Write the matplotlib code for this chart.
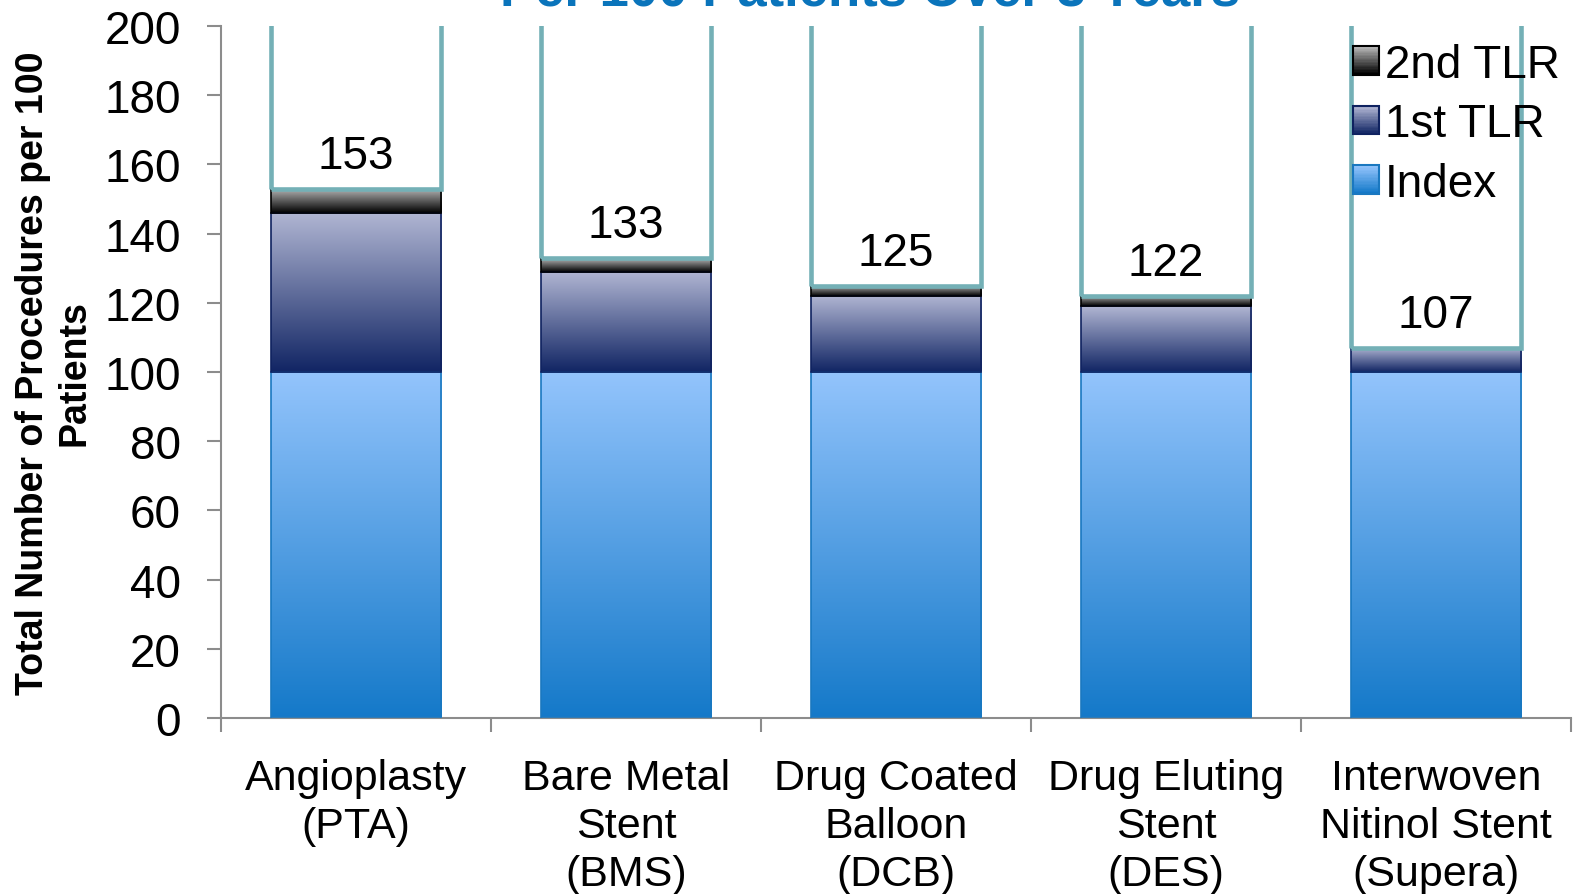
import numpy as np
import matplotlib
matplotlib.use("Agg")
import matplotlib.pyplot as plt
from matplotlib.colors import LinearSegmentedColormap
from matplotlib.patches import Patch, Rectangle
from matplotlib.legend_handler import HandlerBase

plt.rcParams['font.family'] = ['Liberation Sans', 'DejaVu Sans']

categories = ["Angioplasty\n(PTA)", "Bare Metal\nStent\n(BMS)", "Drug Coated\nBalloon\n(DCB)",
              "Drug Eluting\nStent\n(DES)", "Interwoven\nNitinol Stent\n(Supera)"]
index_proc = [100, 100, 100, 100, 100]
first_tlr = [46, 29, 22, 19, 7]
second_tlr = [7, 4, 3, 3, 0]
totals = [153, 133, 125, 122, 107]

# (bottom colour, top colour, edge colour) for each stacked series
styles = {
    "Index": ("#1479c9", "#93c4fc", "#1a78c0"),
    "1st TLR": ("#112564", "#b1b6d3", "#0f2260"),
    "2nd TLR": ("#000000", "#b8b8b8", "#000000"),
}

teal = "#74b0b6"
gray = "#8c8c8c"
bar_w = 0.63


def gradient_cmap(name):
    lo, hi, _ = styles[name]
    return LinearSegmentedColormap.from_list(name, [lo, hi])


class GradientHandler(HandlerBase):
    def __init__(self, name):
        super().__init__()
        self.name = name

    def create_artists(self, legend, orig_handle, xdescent, ydescent, width, height, fontsize, trans):
        cmap = gradient_cmap(self.name)
        n = 20
        x0, y0 = -xdescent, -ydescent
        arts = []
        for i in range(n):
            arts.append(Rectangle((x0, y0 + i * height / n), width, height / n + 0.2,
                                  facecolor=cmap(i / (n - 1)), edgecolor='none', transform=trans))
        arts.append(Rectangle((x0, y0), width, height, fill=False,
                              edgecolor=styles[self.name][2], linewidth=1.5, transform=trans))
        return arts


fig = plt.figure(figsize=(15.75, 8.95), dpi=100)
ax = fig.add_axes([221 / 1575, 176 / 895, 1350 / 1575, 692 / 895])

x = np.arange(len(categories))
grad = np.linspace(0, 1, 256).reshape(-1, 1)

bottoms = np.zeros(len(categories))
for name, vals in [("Index", index_proc), ("1st TLR", first_tlr), ("2nd TLR", second_tlr)]:
    vals = np.array(vals, dtype=float)
    cmap = gradient_cmap(name)
    for xi, b, v in zip(x, bottoms, vals):
        if v <= 0:
            continue
        ax.imshow(grad, cmap=cmap, origin='lower', aspect='auto', interpolation='bilinear',
                  extent=[xi - bar_w / 2, xi + bar_w / 2, b, b + v], zorder=2)
    ax.bar(x, vals, bar_w, bottom=bottoms, fill=False,
           edgecolor=styles[name][2], linewidth=1.2, zorder=3)
    bottoms += vals

# open boxes above each stack with the total written inside
ax.bar(x, [260 - t for t in totals], bar_w, bottom=totals, fill=False,
       edgecolor=teal, linewidth=3.3, zorder=4)
for xi, t in zip(x, totals):
    ax.text(xi, t + 9.5, str(t), ha='center', va='center', fontsize=33, zorder=5)

ax.set_xlim(-0.5, 4.5)
ax.set_ylim(0, 200)
ax.set_yticks(np.arange(0, 201, 20))
ax.set_xticks(x)
ax.set_xticklabels(categories, linespacing=1.25)
ax.set_xticks(np.arange(-0.5, 4.6, 1), minor=True)

for s in ['top', 'right']:
    ax.spines[s].set_visible(False)
for s in ['left', 'bottom']:
    ax.spines[s].set_color(gray)
    ax.spines[s].set_linewidth(1.5)

ax.tick_params(axis='y', length=10, width=1.5, color=gray, labelsize=33, pad=19)
ax.tick_params(axis='x', which='major', length=0, labelsize=31, pad=29)
ax.tick_params(axis='x', which='minor', length=10, width=1.5, color=gray)

fig.text(54 / 1575, 1 - 373 / 895, "Total Number of Procedures per 100\nPatients",
         rotation=90, ha='center', va='center', fontsize=27, fontweight='bold',
         multialignment='center')

fig.text(870 / 1575, 1 - 6 / 895, "Per 100 Patients Over 3 Years", ha='center', va='baseline',
         fontsize=38, fontweight='bold', color='#0a74bb')

names = ["2nd TLR", "1st TLR", "Index"]
handles = [Patch(label=n) for n in names]
ax.legend(handles=handles, labels=names,
          handler_map={h: GradientHandler(n) for h, n in zip(handles, names)},
          loc='upper right', bbox_to_anchor=(0.9915, 0.976), frameon=False,
          fontsize=33, handlelength=0.57, handleheight=0.57, handletextpad=0.12,
          labelspacing=0.34, borderpad=0, borderaxespad=0)

fig.savefig("out.png", dpi=100)
